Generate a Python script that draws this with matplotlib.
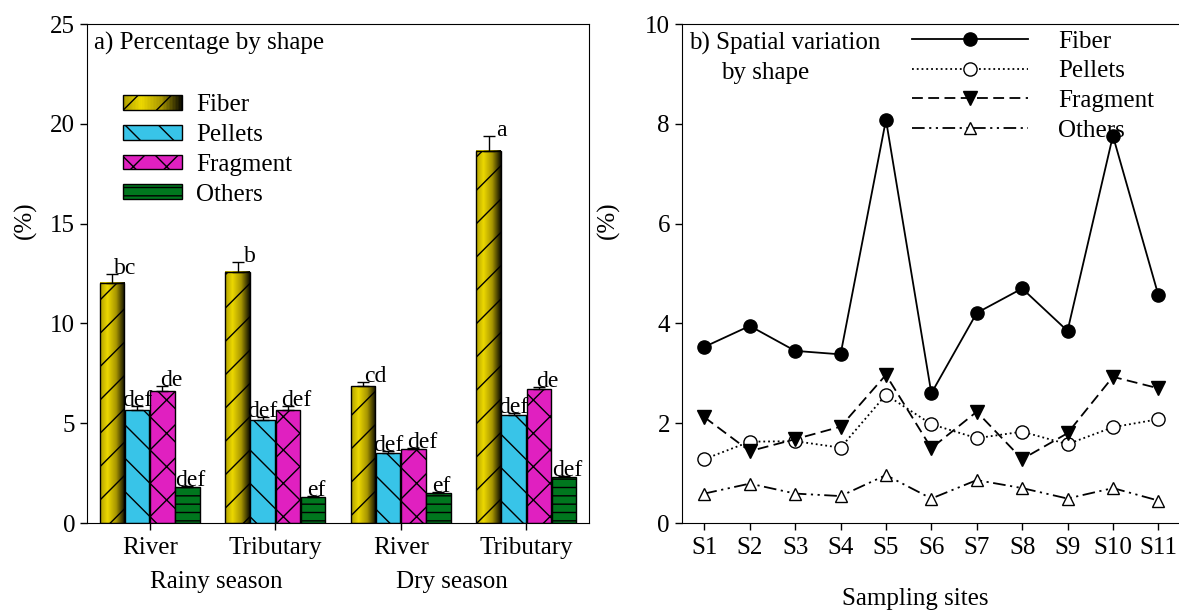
import matplotlib
matplotlib.use("Agg")
import matplotlib.pyplot as plt
import numpy as np
from matplotlib.colors import LinearSegmentedColormap
from matplotlib.patches import Rectangle, Patch
from matplotlib.legend_handler import HandlerBase

plt.rcParams['font.family'] = ['Liberation Serif', 'DejaVu Serif']
plt.rcParams['font.size'] = 18
plt.rcParams['hatch.linewidth'] = 1.0

# ---- data: panel a
groups = ["River", "Tributary", "River", "Tributary"]
seasons = ["Rainy season", "Dry season"]
shapes = ["Fiber", "Pellets", "Fragment", "Others"]

fiber = [12.05, 12.6, 6.86, 18.64]
pellets = [5.64, 5.16, 3.5, 5.41]
fragment = [6.61, 5.66, 3.7, 6.71]
others = [1.8, 1.31, 1.5, 2.3]

fiber_err = [0.45, 0.5, 0.2, 0.75]
pellets_err = [0.2, 0.15, 0.1, 0.1]
fragment_err = [0.25, 0.2, 0.05, 0.1]
others_err = [0.05, 0.05, 0.05, 0.05]

fiber_lab = ["bc", "b", "cd", "a"]
pellets_lab = ["def", "def", "def", "def"]
fragment_lab = ["de", "def", "def", "de"]
others_lab = ["def", "ef", "ef", "def"]

# ---- data: panel b
sites = ["S1", "S2", "S3", "S4", "S5", "S6", "S7", "S8", "S9", "S10", "S11"]
fiber_site = [3.53, 3.95, 3.45, 3.38, 8.08, 2.6, 4.21, 4.7, 3.85, 7.76, 4.57]
pellets_site = [1.28, 1.63, 1.64, 1.51, 2.57, 1.98, 1.70, 1.83, 1.58, 1.92, 2.08]
fragment_site = [2.12, 1.44, 1.68, 1.93, 2.97, 1.5, 2.23, 1.28, 1.8, 2.93, 2.7]
others_site = [0.59, 0.79, 0.59, 0.54, 0.96, 0.49, 0.86, 0.7, 0.49, 0.7, 0.45]

fiber_cmap = LinearSegmentedColormap.from_list(
    "fib", [(0, "#b0a000"), (0.3, "#ecd800"), (0.65, "#a89600"), (1.0, "#0a0a00")])
pellets_c = "#38c4e8"
fragment_c = "#e020c0"
others_c = "#00771e"


class GradientHandler(HandlerBase):
    def create_artists(self, legend, orig_handle, xdescent, ydescent,
                       width, height, fontsize, trans):
        n = 40
        arts = []
        for i in range(n):
            arts.append(Rectangle((-xdescent + width * i / n, -ydescent), width / n * 1.05, height,
                                  facecolor=fiber_cmap(i / (n - 1)), edgecolor='none',
                                  transform=trans))
        arts.append(Rectangle((-xdescent, -ydescent), width, height, facecolor='none',
                              edgecolor='black', hatch='/', lw=1, transform=trans))
        return arts


fig = plt.figure(figsize=(11.79, 6.13), dpi=100)
ax1 = fig.add_axes([0.0738, 0.1468, 0.4258, 0.814])
ax2 = fig.add_axes([0.5782, 0.1468, 0.4235, 0.814])

# ---------------- panel a
x = np.arange(1, len(groups) + 1)
w = 0.195
offs = [-0.3, -0.1, 0.1, 0.3]
lab_shift = [0.1, 0.0, 0.07, 0.025]
grad = np.linspace(0, 1, 256).reshape(1, -1)

for xi, v in zip(x + offs[0], fiber):
    ax1.imshow(grad, extent=(xi - w / 2, xi + w / 2, 0, v), aspect='auto',
               cmap=fiber_cmap, zorder=1)
ax1.bar(x + offs[0], fiber, w, facecolor='none', edgecolor='black', hatch='/', lw=1, zorder=2)
ax1.bar(x + offs[1], pellets, w, color=pellets_c, edgecolor='black', hatch='\\', lw=1, zorder=2)
ax1.bar(x + offs[2], fragment, w, color=fragment_c, edgecolor='black', hatch='x', lw=1, zorder=2)
ax1.bar(x + offs[3], others, w, color=others_c, edgecolor='black', hatch='--', lw=1, zorder=2)

for off, sh, vals, errs, labs in zip(offs, lab_shift, [fiber, pellets, fragment, others],
                                     [fiber_err, pellets_err, fragment_err, others_err],
                                     [fiber_lab, pellets_lab, fragment_lab, others_lab]):
    ax1.errorbar(x + off, vals, yerr=[np.zeros(len(errs)), errs], fmt='none',
                 ecolor='black', elinewidth=1, capsize=4, capthick=1, zorder=3)
    for xi, v, e, t in zip(x + off, vals, errs, labs):
        ax1.text(xi + sh, v + e, t, ha='center', va='baseline', fontsize=17, zorder=4)

ax1.set_xlim(0.5, 4.5)
ax1.set_ylim(0, 25)
ax1.set_yticks([0, 5, 10, 15, 20, 25])
ax1.set_xticks(x)
ax1.set_xticklabels(groups)
ax1.tick_params(direction='out', length=5, width=1, top=False, right=False)
ax1.tick_params(axis='x', pad=5)
ax1.set_ylabel("(%)")
ax1.yaxis.set_label_coords(-0.10, 0.607)
ax1.text(1.53, -0.118, seasons[0], transform=ax1.get_xaxis_transform(),
         ha='center', va='center')
ax1.text(3.41, -0.118, seasons[1], transform=ax1.get_xaxis_transform(),
         ha='center', va='center')
ax1.text(0.014, 0.962, "a) Percentage by shape", transform=ax1.transAxes,
         ha='left', va='center')

fib_key = Patch()
hand = [fib_key,
        Patch(facecolor=pellets_c, edgecolor='black', hatch='\\'),
        Patch(facecolor=fragment_c, edgecolor='black', hatch='x'),
        Patch(facecolor=others_c, edgecolor='black', hatch='--')]
ax1.legend(hand, shapes, loc='upper left', bbox_to_anchor=(0.072, 0.859),
           frameon=False, handlelength=2.36, handleheight=0.52,
           handletextpad=0.56, labelspacing=0.31, borderpad=0, borderaxespad=0,
           handler_map={fib_key: GradientHandler()})

# ---------------- panel b
xs = np.arange(1, len(sites) + 1)
ax2.plot(xs, fiber_site, '-', color='black', lw=1.3, marker='o', ms=9.5,
         mfc='black', mec='black', label=shapes[0])
ax2.plot(xs, pellets_site, ':', color='black', lw=1.3, marker='o', ms=9.5,
         mfc='white', mec='black', label=shapes[1])
ax2.plot(xs, fragment_site, color='black', lw=1.3, ls=(0, (6, 3)), marker='v', ms=9.5,
         mfc='black', mec='black', label=shapes[2])
ax2.plot(xs, others_site, color='black', lw=1.3, ls=(0, (7, 2.5, 1.2, 2.5, 1.2, 2.5)),
         marker='^', ms=9, mfc='white', mec='black', label=shapes[3])

ax2.set_xlim(0.5, 11.5)
ax2.set_ylim(0, 10)
ax2.set_yticks([0, 2, 4, 6, 8, 10])
ax2.set_xticks(xs)
ax2.set_xticklabels(sites)
ax2.tick_params(direction='out', length=5, width=1, top=False, right=False)
ax2.tick_params(axis='x', pad=5)
ax2.spines['right'].set_visible(False)
ax2.set_ylabel("(%)")
ax2.yaxis.set_label_coords(-0.124, 0.607)
ax2.set_xlabel("Sampling sites")
ax2.xaxis.set_label_coords(0.467, -0.13)
ax2.text(0.015, 0.962, "b) Spatial variation", transform=ax2.transAxes,
         ha='left', va='center')
ax2.text(0.079, 0.902, "by shape", transform=ax2.transAxes,
         ha='left', va='center')
ax2.legend(loc='upper left', bbox_to_anchor=(0.461, 0.988), frameon=False,
           handlelength=4.64, handletextpad=1.2, labelspacing=0.29, borderpad=0,
           borderaxespad=0, numpoints=1)

fig.savefig("out.png", dpi=100)
